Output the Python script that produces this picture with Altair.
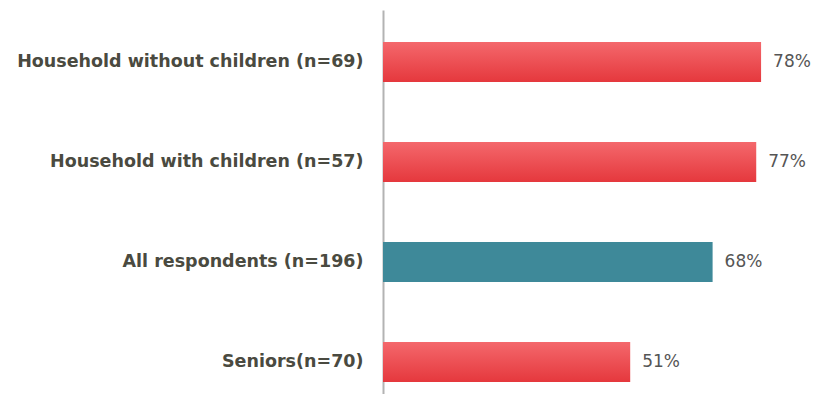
import altair as alt
import pandas as pd

categories = [
    "Household without children (n=69)",
    "Household with children (n=57)",
    "All respondents (n=196)",
    "Seniors(n=70)",
]
values = [78, 77, 68, 51]
groups = ["sub", "sub", "all", "sub"]
labels = ["78%", "77%", "68%", "51%"]

df = pd.DataFrame({"cat": categories, "val": values, "grp": groups, "lab": labels})

FONT = "DejaVu Sans"

y_enc = alt.Y(
    "cat:N",
    sort=categories,
    title=None,
    scale=alt.Scale(paddingInner=0.6, paddingOuter=0.22, align=0.727),
    axis=alt.Axis(
        labelFont=FONT,
        labelFontSize=17.5,
        labelFontWeight="bold",
        labelColor="#4a4a40",
        labelPadding=20,
        labelLimit=400,
        ticks=False,
        domain=True,
        domainColor="#b3b3b3",
        domainWidth=2,
        grid=False,
    ),
)
x_enc = alt.X("val:Q", scale=alt.Scale(domain=[0, 88.3]), axis=None)

base = alt.Chart(df)

red_grad = alt.LinearGradient(
    gradient="linear",
    stops=[
        alt.GradientStop(color="#F4686C", offset=0),
        alt.GradientStop(color="#E5383D", offset=1),
    ],
    x1=0, x2=0, y1=0, y2=1,
)

red = base.transform_filter(alt.datum.grp == "sub").mark_bar(color=red_grad).encode(x=x_enc, y=y_enc)
teal = base.transform_filter(alt.datum.grp == "all").mark_bar(color="#3E8999").encode(x=x_enc, y=y_enc)
text = base.mark_text(
    align="left", baseline="middle", dx=12, font=FONT, fontSize=17, color="#555555"
).encode(x=x_enc, y=y_enc, text="lab:N")

chart = (
    alt.layer(red, teal, text)
    .properties(
        width=428,
        height=384,
        padding={"left": 375, "top": 2, "right": 0, "bottom": 0},
        autosize=alt.AutoSizeParams(type="none"),
    )
    .configure_view(stroke=None)
)

chart.save("out.html", embed_options={"renderer": "svg", "actions": False})
